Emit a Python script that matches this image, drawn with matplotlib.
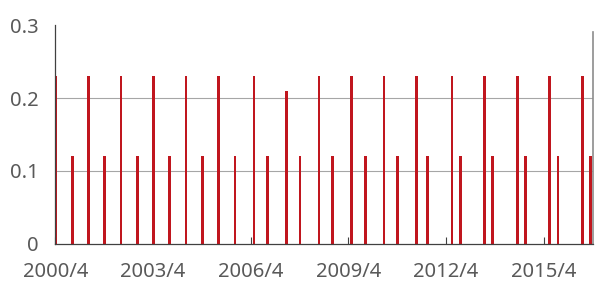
import pandas as pd
import matplotlib
matplotlib.use("Agg")
import matplotlib.pyplot as plt

# payout month and amount
pay_months = [
    "2000-04", "2000-10", "2001-04", "2001-10", "2002-04", "2002-10",
    "2003-04", "2003-10", "2004-04", "2004-10", "2005-04", "2005-10",
    "2006-05", "2006-10", "2007-05", "2007-10", "2008-05", "2008-10",
    "2009-05", "2009-10", "2010-05", "2010-10", "2011-05", "2011-09",
    "2012-06", "2012-09", "2013-06", "2013-09", "2014-06", "2014-09",
    "2015-06", "2015-09", "2016-06", "2016-09",
]
amounts = [
    0.23, 0.12, 0.23, 0.12, 0.23, 0.12,
    0.23, 0.12, 0.23, 0.12, 0.23, 0.12,
    0.23, 0.12, 0.21, 0.12, 0.23, 0.12,
    0.23, 0.12, 0.23, 0.12, 0.23, 0.12,
    0.23, 0.12, 0.23, 0.12, 0.23, 0.12,
    0.23, 0.12, 0.23, 0.12,
]
tick_months = ["2000-04", "2003-04", "2006-04", "2009-04", "2012-04", "2015-04"]
y_ticks = [0, 0.1, 0.2, 0.3]

text_color = "#595959"
font = "Noto Sans"

dates = pd.to_datetime(pay_months) + pd.Timedelta(days=6)
ticks = pd.to_datetime(tick_months)

fig = plt.figure(figsize=(6, 2.88), dpi=100)
ax = fig.add_axes([0.0918, 0.154, 0.896, 0.758])

ax.bar(dates, amounts, width=30, color="#C0161E", linewidth=0, zorder=2)

ax.set_xlim(pd.Timestamp("2000-03-29"), pd.Timestamp("2016-10-01"))
ax.set_ylim(0, 0.3)

ax.set_xticks(ticks)
ax.set_xticklabels([t.strftime("%Y/") + str(t.month) for t in ticks],
                   fontsize=14.5, color=text_color, family=font)
ax.set_yticks(y_ticks)
ax.set_yticklabels([f"{v:g}" for v in y_ticks],
                   fontsize=14.5, color=text_color, family=font)

ax.tick_params(axis="x", direction="in", length=5, width=0.8,
               color="#404040", pad=13)
ax.tick_params(axis="y", length=0, pad=12)

ax.grid(axis="y", color="#A6A6A6", linewidth=0.8)
ax.yaxis.get_gridlines()[-1].set_visible(False)
ax.yaxis.get_gridlines()[0].set_visible(False)
ax.set_axisbelow(True)

for side in ["top", "right"]:
    ax.spines[side].set_visible(False)
for side in ["left", "bottom"]:
    ax.spines[side].set_color("#404040")
    ax.spines[side].set_linewidth(0.9)
ax.axvline(pd.Timestamp("2016-10-01"), ymin=0, ymax=0.97,
           color="#8C8C8C", linewidth=1.2, clip_on=False)

plt.savefig("out.png", dpi=100)
